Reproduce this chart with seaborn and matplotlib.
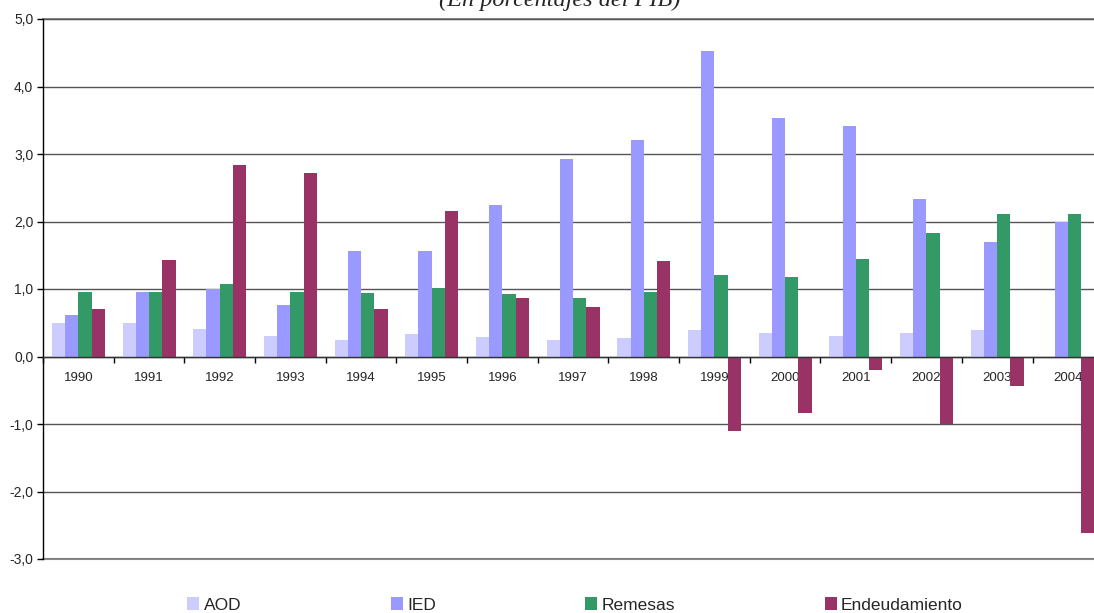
import numpy as np
import pandas as pd
import matplotlib
matplotlib.use('Agg')
import matplotlib.pyplot as plt
import matplotlib.ticker as mticker
import seaborn as sns

years = ['1990', '1991', '1992', '1993', '1994', '1995', '1996', '1997',
         '1998', '1999', '2000', '2001', '2002', '2003', '2004']
aod = [0.50, 0.50, 0.41, 0.31, 0.25, 0.34, 0.29, 0.25, 0.28, 0.40, 0.35, 0.30, 0.35, 0.40, np.nan]
ied = [0.61, 0.95, 1.00, 0.76, 1.57, 1.57, 2.25, 2.92, 3.21, 4.53, 3.54, 3.42, 2.34, 1.69, 2.00]
remesas = [0.95, 0.95, 1.07, 0.95, 0.94, 1.01, 0.92, 0.86, 0.95, 1.21, 1.18, 1.44, 1.83, 2.11, 2.11]
endeud = [0.70, 1.43, 2.84, 2.72, 0.71, 2.15, 0.86, 0.73, 1.42, -1.11, -0.84, -0.20, -1.00, -0.44, -2.62]
series = ['AOD', 'IED', 'Remesas', 'Endeudamiento']
colors = ['#CCCCFF', '#9999FF', '#339966', '#993366']

df = pd.DataFrame({'year': years, 'AOD': aod, 'IED': ied, 'Remesas': remesas, 'Endeudamiento': endeud})
df = df.melt(id_vars='year', var_name='serie', value_name='valor')

sns.set_style('white')
plt.rcParams['font.family'] = ['Liberation Sans', 'DejaVu Sans']

fig = plt.figure(figsize=(10.94, 6.13), dpi=100)
ax = fig.add_axes([43 / 1094, 1 - 559 / 613, 1 - 43 / 1094, (559 - 19) / 613])

sns.barplot(data=df, x='year', y='valor', hue='serie', hue_order=series,
            palette=colors, width=0.75, gap=0, saturation=1, errorbar=None,
            linewidth=0, ax=ax)

handles, labels = ax.get_legend_handles_labels()
ax.get_legend().remove()

ax.set_xlabel('')
ax.set_ylabel('')
ax.yaxis.set_major_locator(mticker.MultipleLocator(1))
ax.yaxis.set_major_formatter(mticker.FuncFormatter(lambda v, p: f'{v:.1f}'.replace('.', ',')))
ax.set_axisbelow(True)
ax.yaxis.grid(True, color='#555555', linewidth=1)
ax.xaxis.grid(False)
# plot area border lines at top and bottom (gray, as in the original)
ax.axhline(5, color='#888888', linewidth=1.5, clip_on=False, zorder=0.5)
ax.axhline(-3, color='#888888', linewidth=1.5, clip_on=False, zorder=0.5)

for s in ['top', 'right']:
    ax.spines[s].set_visible(False)
ax.spines['left'].set_color('black')
ax.spines['left'].set_linewidth(1)
ax.spines['bottom'].set_position(('data', 0))
ax.spines['bottom'].set_color('#333333')
ax.spines['bottom'].set_linewidth(1)

ax.tick_params(axis='y', which='major', left=True, direction='out', length=4, width=1,
               color='black', labelsize=10, pad=3)
ax.tick_params(axis='x', which='major', length=0, labelsize=9.5, pad=11)
ax.set_xticks(np.arange(-0.5, 15, 1), minor=True)
ax.tick_params(axis='x', which='minor', bottom=True, direction='out', length=4, width=1, color='black')

# limits after ticks so the ticks do not widen the view
ax.set_ylim(-3, 5)
ax.set_xlim(-0.5, 14.37)

fig.text(560 / 1094, 1 - 6 / 613, '(En porcentajes del PIB)', ha='center', va='baseline',
         fontsize=17.5, style='italic', family=['Liberation Serif', 'DejaVu Serif'])

fig.legend(handles, labels, loc='center', bbox_to_anchor=(575 / 1094, 1 - 605 / 613),
           ncol=4, frameon=False, fontsize=12.5, handlelength=0.7, handleheight=0.7,
           handletextpad=0.25, columnspacing=8.6, borderaxespad=0, borderpad=0)

fig.savefig('out.png', dpi=100)
